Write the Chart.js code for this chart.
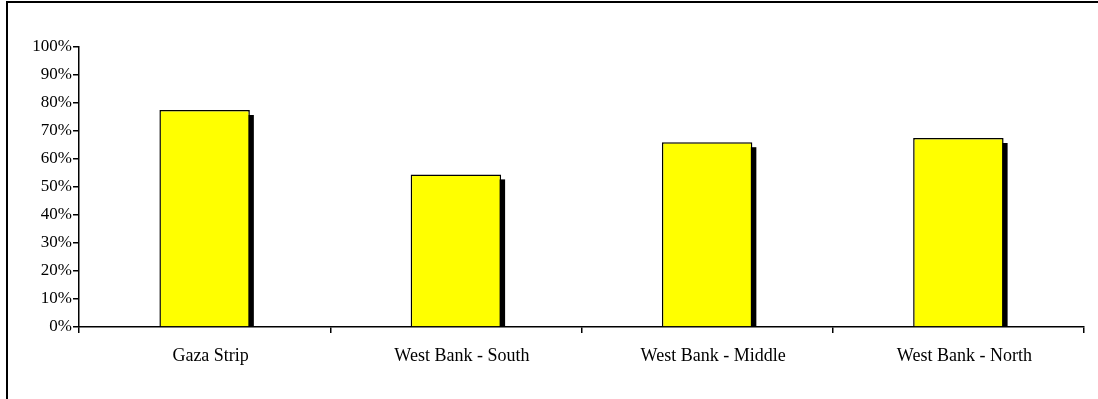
<!DOCTYPE html>
<html>
<head>
<meta charset="utf-8">
<script src="https://cdn.jsdelivr.net/npm/chart.js@4/dist/chart.umd.min.js"></script>
<style>
  html, body { margin: 0; padding: 0; background: #fff; overflow: hidden; }
  #wrap { position: relative; width: 1098px; height: 399px; }
  #frame {
    position: absolute; left: 6px; top: 1px;
    width: 1200px; height: 500px;
    border: 2px solid #000; box-sizing: border-box;
  }
  canvas { position: absolute; left: 0; top: 0; }
</style>
</head>
<body>
<div id="wrap">
  <div id="frame"></div>
  <canvas id="myChart" width="1098" height="399"></canvas>
</div>
<script>
const labels = ['Gaza Strip', 'West Bank - South', 'West Bank - Middle', 'West Bank - North'];
const values = [77.5, 54.5, 66, 67.5];
const yTicks = [0, 10, 20, 30, 40, 50, 60, 70, 80, 90, 100];

// black drop shadow behind each bar
const shadowPlugin = {
  id: 'barShadow',
  beforeDatasetsDraw(chart) {
    const ctx = chart.ctx;
    const meta = chart.getDatasetMeta(0);
    ctx.save();
    ctx.fillStyle = '#000';
    meta.data.forEach(bar => {
      const p = bar.getProps(['x', 'y', 'base', 'width'], true);
      ctx.fillRect(p.x - p.width / 2 + 4, p.y + 5, p.width, p.base - p.y - 5);
    });
    ctx.restore();
  }
};

const data = {
  labels: labels,
  datasets: [{
    data: values,
    backgroundColor: '#FFFF00',
    borderColor: '#000',
    borderWidth: 1.5,
    categoryPercentage: 1,
    barPercentage: 0.36
  }]
};

const config = {
  type: 'bar',
  data: data,
  plugins: [shadowPlugin],
  options: {
    responsive: false,
    animation: false,
    layout: { padding: { left: 0, right: 14, top: 47, bottom: 0 } },
    plugins: { legend: { display: false }, tooltip: { enabled: false } },
    scales: {
      x: {
        afterFit(scale) { scale.height = 72; },
        grid: { drawOnChartArea: false, drawTicks: true, tickLength: 6, color: '#000', lineWidth: 1.5, offset: true },
        border: { display: true, color: '#000', width: 1.5 },
        ticks: { color: '#000', padding: 12, labelOffset: 6, font: { family: 'Liberation Serif', size: 18 } }
      },
      y: {
        min: 0,
        max: 100,
        afterFit(scale) { scale.width = 79; },
        afterBuildTicks(scale) { scale.ticks = yTicks.map(v => ({ value: v })); },
        grid: { drawOnChartArea: false, drawTicks: true, tickLength: 6, color: '#000', lineWidth: 1.5 },
        border: { display: true, color: '#000', width: 1.5 },
        ticks: {
          color: '#000',
          padding: 1,
          font: { family: 'Liberation Serif', size: 17 },
          callback: v => v + '%'
        }
      }
    }
  }
};

const canvasElement = document.getElementById('myChart');
const myChart = new Chart(canvasElement, config);
</script>
</body>
</html>
